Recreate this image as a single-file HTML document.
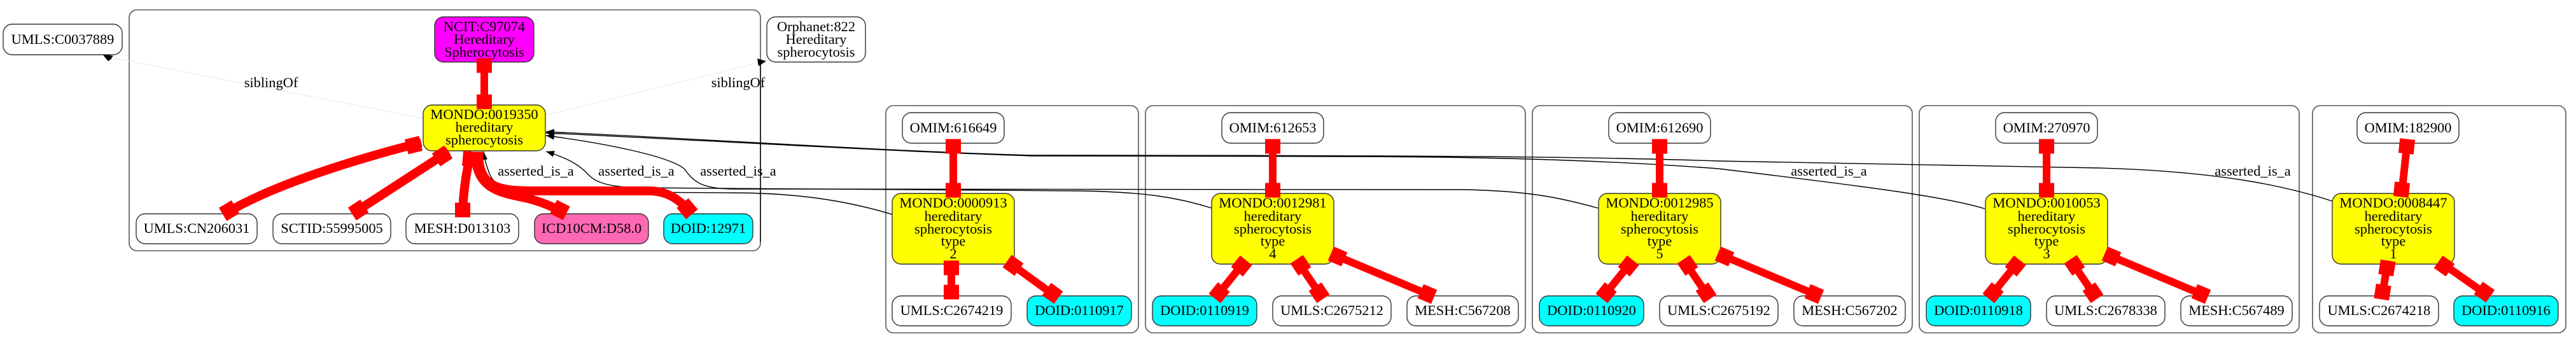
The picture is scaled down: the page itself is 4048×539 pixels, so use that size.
<!DOCTYPE html>
<html><head><meta charset="utf-8"><style>
html,body{margin:0;padding:0;background:#fff;}
svg{display:block;}
text{font-family:"Liberation Serif",serif;font-size:22.4px;fill:#000;text-anchor:middle;}
.cl{fill:none;stroke:#555;stroke-width:1.6;}
.nd{stroke:#333;stroke-width:1.4;}
.bk{fill:none;stroke:#000;stroke-width:1.4;}
.rd{fill:none;stroke:#f00;stroke-width:12;}
.rdt{stroke:#f00;stroke-width:14;fill:none;}
.sib{fill:none;stroke:#e6e6e6;stroke-width:1;}
</style></head><body>
<svg width="4048" height="539" viewBox="0 0 4048 539" xmlns="http://www.w3.org/2000/svg">
<defs>
<marker id="ah" markerUnits="userSpaceOnUse" markerWidth="14" markerHeight="12" refX="13" refY="5" orient="auto"><path d="M0,0 L13,5 L0,10 z" fill="#000"/></marker>
<g id="tee"><rect x="-11.5" y="-12" width="23" height="24" fill="#f00"/></g>
</defs>

<!-- main cluster -->
<rect class="cl" x="203" y="15.5" width="992" height="378.5" rx="12"/>
<line x1="1195" y1="100" x2="1195" y2="380" stroke="#000" stroke-width="1.4"/>

<!-- type clusters -->
<rect class="cl" x="1392" y="166" width="397" height="357" rx="12"/>
<rect class="cl" x="1800" y="166" width="597" height="357" rx="12"/>
<rect class="cl" x="2408" y="166" width="597" height="357" rx="12"/>
<rect class="cl" x="3016" y="166" width="597" height="357" rx="12"/>
<rect class="cl" x="3634" y="166" width="398" height="357" rx="12"/>

<!-- siblingOf edges -->
<path class="sib" d="M665 186 L172 90"/>
<path d="M160 84 L176 92 L170 96 z" fill="#000"/>
<polygon points="160,84 178,88 170,96" fill="#000"/>
<path class="sib" d="M857 181 L1195 98"/>
<polygon points="1204,96 1190,92 1192,104" fill="#000"/>
<text x="426" y="137">siblingOf</text>
<text x="1160" y="137">siblingOf</text>

<!-- black asserted_is_a edges -->
<path class="bk" marker-end="url(#ah)" d="M1402 337 C1330 315,1250 303,1150 303 L830 301 C790 299,775 290,768 270 C764 258,761 250,760 238"/>
<path class="bk" marker-end="url(#ah)" d="M1904 327 C1850 310,1800 302,1700 300 L1000 295 C950 293,935 285,925 275 C910 258,890 248,858 238"/>
<path class="bk" marker-end="url(#ah)" d="M2511 327 C2450 310,2400 300,2300 298 L1150 297 C1100 296,1090 285,1075 265 C1050 245,950 225,858 213"/>
<path class="bk" marker-end="url(#ah)" d="M3119 328 C3060 310,2950 295,2700 265 C2500 250,2300 246,2100 246 L1620 245 C1400 238,1100 220,858 209"/>
<path class="bk" marker-end="url(#ah)" d="M3665 316 C3600 295,3500 270,3300 264 L2700 253 C2500 246,2200 244,1620 244 C1400 238,1100 218,858 207"/>
<text x="842" y="276">asserted_is_a</text>
<text x="1000" y="276">asserted_is_a</text>
<text x="1160" y="276">asserted_is_a</text>
<text x="2874" y="276">asserted_is_a</text>
<text x="3540" y="276">asserted_is_a</text>

<!-- main nodes -->
<rect class="nd" x="5" y="38" width="187" height="48" rx="14" fill="#fff"/>
<text x="98.5" y="69">UMLS:C0037889</text>
<rect class="nd" x="683" y="26.5" width="156" height="71" rx="14" fill="#f0f"/>
<text x="761" y="49">NCIT:C97074</text><text x="761" y="69">Hereditary</text><text x="761" y="89">Spherocytosis</text>
<rect class="nd" x="665" y="165" width="192" height="72" rx="14" fill="#ff0"/>
<text x="761" y="187">MONDO:0019350</text><text x="761" y="207">hereditary</text><text x="761" y="227">spherocytosis</text>
<rect class="nd" x="1205" y="26.5" width="155" height="71" rx="14" fill="#fff"/>
<text x="1282.5" y="49">Orphanet:822</text><text x="1282.5" y="69">Hereditary</text><text x="1282.5" y="89">spherocytosis</text>
<rect class="nd" x="214" y="336" width="190" height="47" rx="14" fill="#fff"/><text x="309" y="366">UMLS:CN206031</text>
<rect class="nd" x="429" y="336" width="185" height="47" rx="14" fill="#fff"/><text x="521.5" y="366">SCTID:55995005</text>
<rect class="nd" x="638" y="336" width="177" height="47" rx="14" fill="#fff"/><text x="726.5" y="366">MESH:D013103</text>
<rect class="nd" x="840" y="336" width="179" height="47" rx="14" fill="#ff69b4"/><text x="929.5" y="366">ICD10CM:D58.0</text>
<rect class="nd" x="1043" y="336" width="140" height="47" rx="14" fill="#0ff"/><text x="1113" y="366">DOID:12971</text>

<!-- main red edges -->
<line class="rd" x1="761" y1="97" x2="761" y2="165"/>
<use href="#tee" transform="translate(761,103) rotate(90)"/>
<use href="#tee" transform="translate(761,160) rotate(90)"/>
<path class="rdt" d="M662 224 C560 250,430 290,357 334"/>
<use href="#tee" transform="translate(650,228) rotate(166)"/>
<use href="#tee" transform="translate(360,331) rotate(149)"/>
<path class="rdt" d="M705 238 L557 334"/>
<use href="#tee" transform="translate(695,245) rotate(147)"/>
<use href="#tee" transform="translate(563,330) rotate(147)"/>
<path class="rdt" d="M740 238 C733 270,728 300,727 335"/>
<use href="#tee" transform="translate(739,250) rotate(95)"/>
<use href="#tee" transform="translate(727,330) rotate(90)"/>
<path class="rdt" d="M747 240 C747 300,790 303,830 312 C860 320,875 328,886 336"/>
<use href="#tee" transform="translate(747,250) rotate(90)"/>
<use href="#tee" transform="translate(880,330) rotate(27)"/>
<path class="rdt" d="M752 240 C752 300,790 300,850 300 L1020 300 C1050 300,1070 315,1085 335"/>
<use href="#tee" transform="translate(1080,328) rotate(50)"/>

<!-- cluster 2 -->
<rect class="nd" x="1418" y="177" width="160" height="48" rx="14" fill="#fff"/><text x="1498" y="208">OMIM:616649</text>
<rect class="nd" x="1402" y="304" width="192" height="111" rx="14" fill="#ff0"/>
<text x="1498" y="326">MONDO:0000913</text><text x="1498" y="347">hereditary</text><text x="1498" y="367">spherocytosis</text><text x="1498" y="386">type</text><text x="1498" y="406">2</text>
<rect class="nd" x="1402" y="465" width="187" height="47" rx="14" fill="#fff"/><text x="1495.5" y="495">UMLS:C2674219</text>
<rect class="nd" x="1614" y="465" width="164" height="47" rx="14" fill="#0ff"/><text x="1696" y="495">DOID:0110917</text>
<line class="rd" x1="1498" y1="225" x2="1498" y2="304"/>
<use href="#tee" transform="translate(1498,230) rotate(90)"/>
<use href="#tee" transform="translate(1498,299) rotate(90)"/>
<line class="rd" x1="1495" y1="412" x2="1495" y2="466"/>
<use href="#tee" transform="translate(1495,421) rotate(90)"/>
<use href="#tee" transform="translate(1495,459) rotate(90)"/>
<line class="rd" x1="1585" y1="412" x2="1662" y2="468"/>
<use href="#tee" transform="translate(1592,417) rotate(36)"/>
<use href="#tee" transform="translate(1654,461) rotate(36)"/>

<!-- 3-child clusters -->
<g transform="translate(1800,0)">
<rect class="nd" x="120" y="177" width="160" height="48" rx="14" fill="#fff"/><text x="200" y="208">OMIM:612653</text>
<rect class="nd" x="104" y="304" width="192" height="111" rx="14" fill="#ff0"/>
<text x="200" y="326">MONDO:0012981</text><text x="200" y="347">hereditary</text><text x="200" y="367">spherocytosis</text><text x="200" y="386">type</text><text x="200" y="406">4</text>
<rect class="nd" x="11" y="465" width="164" height="47" rx="14" fill="#0ff"/><text x="93" y="495">DOID:0110919</text>
<rect class="nd" x="200" y="465" width="186" height="47" rx="14" fill="#fff"/><text x="293" y="495">UMLS:C2675212</text>
<rect class="nd" x="411" y="465" width="175" height="47" rx="14" fill="#fff"/><text x="498.5" y="495">MESH:C567208</text>
<line class="rd" x1="200" y1="225" x2="200" y2="304"/>
<use href="#tee" transform="translate(200,230) rotate(90)"/><use href="#tee" transform="translate(200,299) rotate(90)"/>
<line class="rd" x1="155" y1="412" x2="110" y2="468"/>
<use href="#tee" transform="translate(151,418) rotate(129)"/><use href="#tee" transform="translate(116,460) rotate(129)"/>
<line class="rd" x1="240" y1="412" x2="278" y2="468"/>
<use href="#tee" transform="translate(244,417) rotate(56)"/><use href="#tee" transform="translate(273,460) rotate(56)"/>
<line class="rd" x1="295" y1="400" x2="450" y2="465"/>
<use href="#tee" transform="translate(302,403) rotate(23)"/><use href="#tee" transform="translate(443,462) rotate(23)"/>
</g>
<g transform="translate(2408,0)">
<rect class="nd" x="120" y="177" width="160" height="48" rx="14" fill="#fff"/><text x="200" y="208">OMIM:612690</text>
<rect class="nd" x="104" y="304" width="192" height="111" rx="14" fill="#ff0"/>
<text x="200" y="326">MONDO:0012985</text><text x="200" y="347">hereditary</text><text x="200" y="367">spherocytosis</text><text x="200" y="386">type</text><text x="200" y="406">5</text>
<rect class="nd" x="11" y="465" width="164" height="47" rx="14" fill="#0ff"/><text x="93" y="495">DOID:0110920</text>
<rect class="nd" x="200" y="465" width="186" height="47" rx="14" fill="#fff"/><text x="293" y="495">UMLS:C2675192</text>
<rect class="nd" x="411" y="465" width="175" height="47" rx="14" fill="#fff"/><text x="498.5" y="495">MESH:C567202</text>
<line class="rd" x1="200" y1="225" x2="200" y2="304"/>
<use href="#tee" transform="translate(200,230) rotate(90)"/><use href="#tee" transform="translate(200,299) rotate(90)"/>
<line class="rd" x1="155" y1="412" x2="110" y2="468"/>
<use href="#tee" transform="translate(151,418) rotate(129)"/><use href="#tee" transform="translate(116,460) rotate(129)"/>
<line class="rd" x1="240" y1="412" x2="278" y2="468"/>
<use href="#tee" transform="translate(244,417) rotate(56)"/><use href="#tee" transform="translate(273,460) rotate(56)"/>
<line class="rd" x1="295" y1="400" x2="450" y2="465"/>
<use href="#tee" transform="translate(302,403) rotate(23)"/><use href="#tee" transform="translate(443,462) rotate(23)"/>
</g>
<g transform="translate(3016,0)">
<rect class="nd" x="120" y="177" width="160" height="48" rx="14" fill="#fff"/><text x="200" y="208">OMIM:270970</text>
<rect class="nd" x="104" y="304" width="192" height="111" rx="14" fill="#ff0"/>
<text x="200" y="326">MONDO:0010053</text><text x="200" y="347">hereditary</text><text x="200" y="367">spherocytosis</text><text x="200" y="386">type</text><text x="200" y="406">3</text>
<rect class="nd" x="11" y="465" width="164" height="47" rx="14" fill="#0ff"/><text x="93" y="495">DOID:0110918</text>
<rect class="nd" x="200" y="465" width="186" height="47" rx="14" fill="#fff"/><text x="293" y="495">UMLS:C2678338</text>
<rect class="nd" x="411" y="465" width="175" height="47" rx="14" fill="#fff"/><text x="498.5" y="495">MESH:C567489</text>
<line class="rd" x1="200" y1="225" x2="200" y2="304"/>
<use href="#tee" transform="translate(200,230) rotate(90)"/><use href="#tee" transform="translate(200,299) rotate(90)"/>
<line class="rd" x1="155" y1="412" x2="110" y2="468"/>
<use href="#tee" transform="translate(151,418) rotate(129)"/><use href="#tee" transform="translate(116,460) rotate(129)"/>
<line class="rd" x1="240" y1="412" x2="278" y2="468"/>
<use href="#tee" transform="translate(244,417) rotate(56)"/><use href="#tee" transform="translate(273,460) rotate(56)"/>
<line class="rd" x1="295" y1="400" x2="450" y2="465"/>
<use href="#tee" transform="translate(302,403) rotate(23)"/><use href="#tee" transform="translate(443,462) rotate(23)"/>
</g>

<!-- cluster 6 -->
<rect class="nd" x="3704" y="177" width="160" height="48" rx="14" fill="#fff"/><text x="3784" y="208">OMIM:182900</text>
<rect class="nd" x="3665" y="304" width="192" height="111" rx="14" fill="#ff0"/>
<text x="3761" y="326">MONDO:0008447</text><text x="3761" y="347">hereditary</text><text x="3761" y="367">spherocytosis</text><text x="3761" y="386">type</text><text x="3761" y="406">1</text>
<rect class="nd" x="3645" y="465" width="187" height="47" rx="14" fill="#fff"/><text x="3738.5" y="495">UMLS:C2674218</text>
<rect class="nd" x="3856" y="465" width="164" height="47" rx="14" fill="#0ff"/><text x="3938" y="495">DOID:0110916</text>
<line class="rd" x1="3783" y1="222" x2="3774" y2="305"/>
<use href="#tee" transform="translate(3782,230) rotate(96)"/><use href="#tee" transform="translate(3774,298) rotate(96)"/>
<line class="rd" x1="3752" y1="412" x2="3743" y2="468"/>
<use href="#tee" transform="translate(3751,421) rotate(99)"/><use href="#tee" transform="translate(3744,459) rotate(99)"/>
<line class="rd" x1="3835" y1="412" x2="3912" y2="466"/>
<use href="#tee" transform="translate(3841,418) rotate(35)"/><use href="#tee" transform="translate(3904,459) rotate(35)"/>
</svg>
</body></html>
